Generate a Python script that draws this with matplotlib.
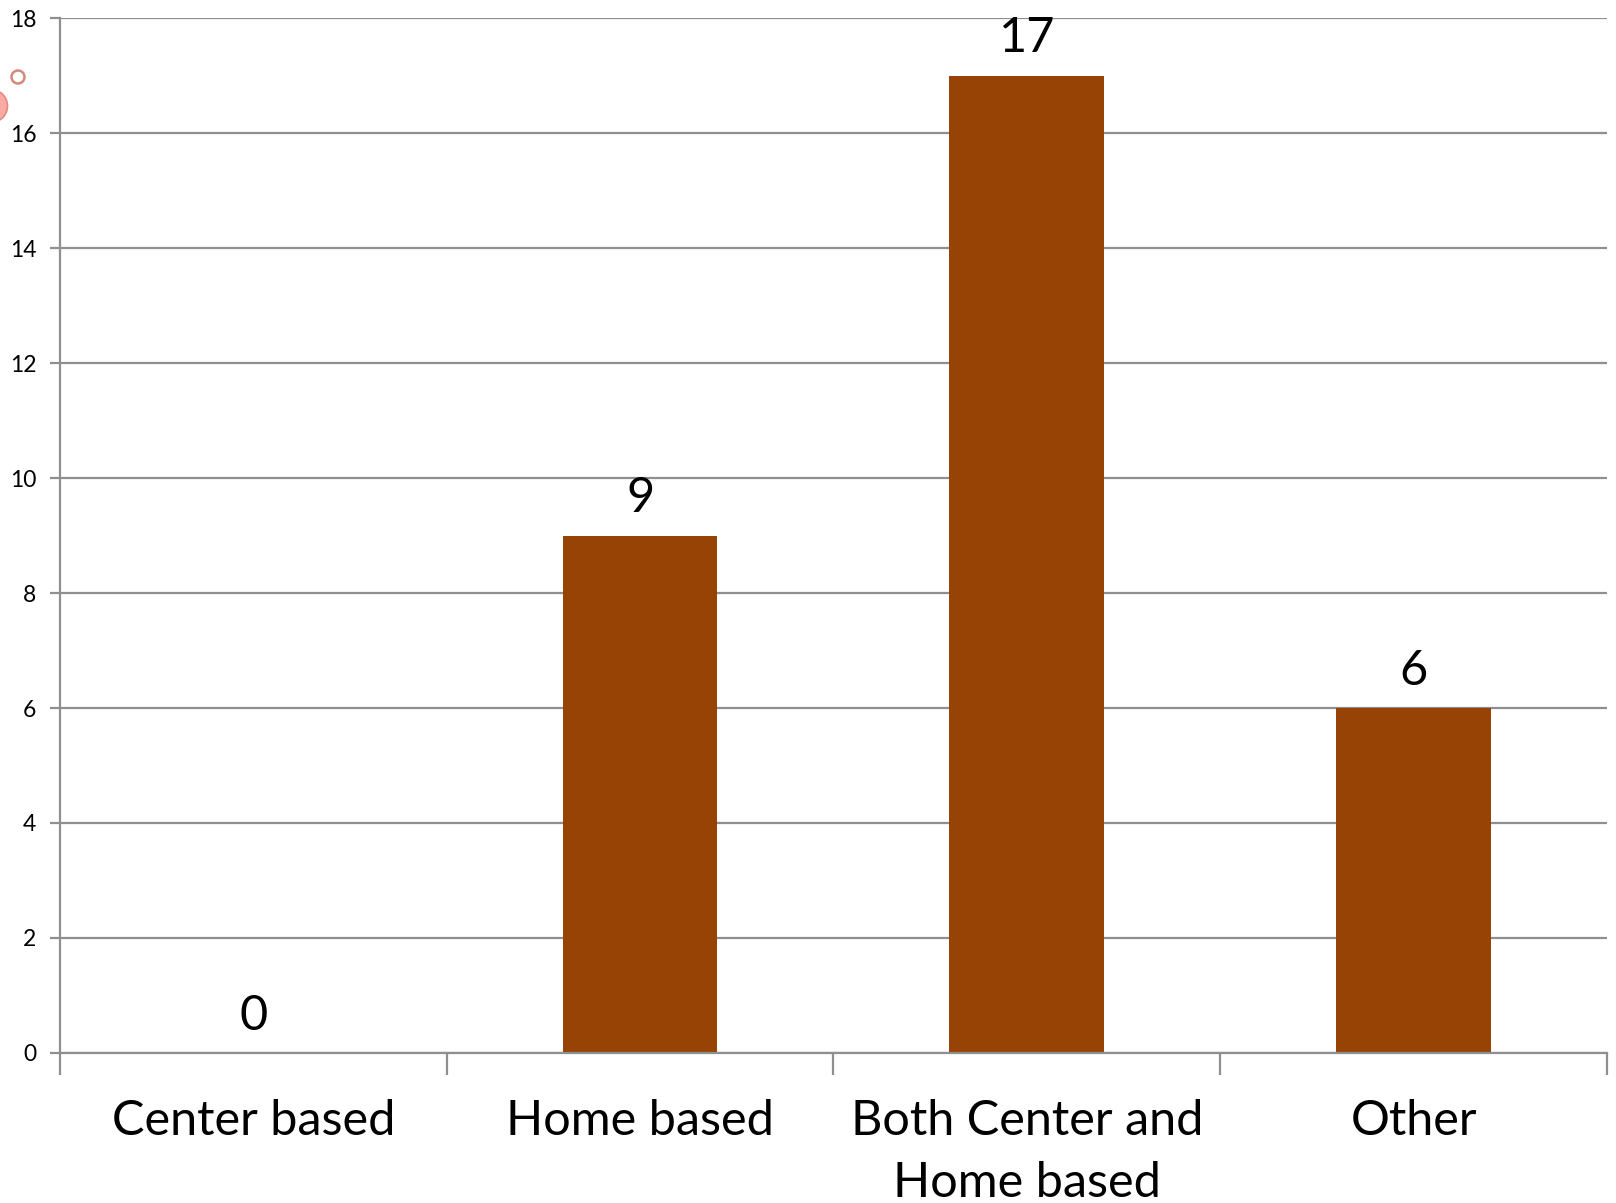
import matplotlib
matplotlib.use("Agg")
import matplotlib.pyplot as plt
from matplotlib.patches import Circle
from matplotlib.ticker import FixedLocator, NullFormatter

categories = ["Center based", "Home based", "Both Center and\nHome based", "Other"]
counts = [0, 9, 17, 6]
y_ticks = [0, 2, 4, 6, 8, 10, 12, 14, 16, 18]

plt.rcParams["font.family"] = ["Lato", "DejaVu Sans"]

fig = plt.figure(figsize=(16.16, 12.03), dpi=100)
ax = fig.add_axes([0.0371, 0.1247, 0.9573, 0.8603])

bar_color = "#974306"
grid_color = "#8f8f8f"

x = list(range(len(categories)))
ax.bar(x, counts, width=0.4, color=bar_color, zorder=3)

for xi, v in zip(x, counts):
    ax.annotate(str(v), (xi, v), xytext=(0, 11), textcoords="offset points",
                ha="center", va="bottom", fontsize=35, color="black", zorder=4)

ax.set_xlim(-0.5, len(categories) - 0.5)
ax.set_ylim(0, 18)
ax.set_yticks(y_ticks)
ax.set_yticklabels([str(t) for t in y_ticks], fontsize=16.5)
ax.yaxis.grid(True, color=grid_color, linewidth=1.6, zorder=0)
ax.tick_params(axis="y", length=7, width=1.6, color=grid_color, pad=10)

# category labels centred under each bar, tick marks on the boundaries
ax.set_xticks(x)
ax.set_xticklabels(categories, fontsize=35, linespacing=1.5)
ax.tick_params(axis="x", length=0, pad=33)
ax.xaxis.set_minor_locator(FixedLocator([i - 0.5 for i in range(len(categories) + 1)]))
ax.xaxis.set_minor_formatter(NullFormatter())
ax.tick_params(axis="x", which="minor", length=16, width=1.6, color=grid_color)

for side in ["top", "right"]:
    ax.spines[side].set_visible(False)
for side in ["left", "bottom"]:
    ax.spines[side].set_color(grid_color)
    ax.spines[side].set_linewidth(1.6)
    ax.spines[side].set_zorder(5)

# slide decoration at the upper left (pixel coordinates)
fig.patches.append(Circle((18, 1203 - 77), 6.5, transform=None,
                          facecolor="white", edgecolor="#d4897a", linewidth=1.8,
                          figure=fig))
fig.patches.append(Circle((-9, 1203 - 106), 16.5, transform=None, facecolor="#f9aba3",
                          edgecolor="#e58a80", linewidth=1.2, figure=fig))

fig.savefig("out.png", dpi=100)
